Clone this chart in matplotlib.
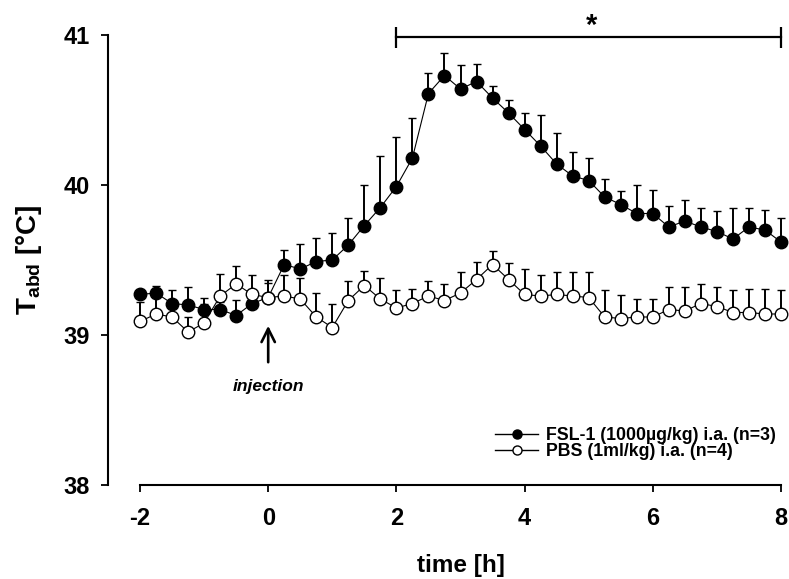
import matplotlib
matplotlib.use('Agg')
import matplotlib.pyplot as plt
from matplotlib.lines import Line2D

plt.rcParams['font.family'] = 'Liberation Sans'
plt.rcParams['font.weight'] = 'bold'
plt.rcParams['axes.unicode_minus'] = False
plt.rcParams['mathtext.fontset'] = 'custom'
plt.rcParams['mathtext.rm'] = 'Liberation Sans:bold'
plt.rcParams['mathtext.default'] = 'rm'

# time points (h), 15 min sampling
time = [-2.0, -1.75, -1.5, -1.25, -1.0, -0.75, -0.5, -0.25,
        0.0, 0.25, 0.5, 0.75, 1.0, 1.25, 1.5, 1.75,
        2.0, 2.25, 2.5, 2.75, 3.0, 3.25, 3.5, 3.75,
        4.0, 4.25, 4.5, 4.75, 5.0, 5.25, 5.5, 5.75,
        6.0, 6.25, 6.5, 6.75, 7.0, 7.25, 7.5, 7.75, 8.0]

fsl = [39.27, 39.28, 39.21, 39.20, 39.17, 39.17, 39.13, 39.21,
       39.25, 39.47, 39.44, 39.49, 39.50, 39.60, 39.73, 39.85,
       39.99, 40.18, 40.61, 40.73, 40.64, 40.69, 40.58, 40.48,
       40.37, 40.26, 40.14, 40.06, 40.03, 39.92, 39.87, 39.81,
       39.81, 39.72, 39.76, 39.72, 39.69, 39.64, 39.72, 39.70, 39.62]
fsl_sem = [0.03, 0.05, 0.09, 0.12, 0.04, 0.05, 0.10, 0.05,
           0.10, 0.10, 0.17, 0.16, 0.18, 0.18, 0.27, 0.34,
           0.33, 0.27, 0.14, 0.15, 0.16, 0.12, 0.08, 0.09,
           0.11, 0.21, 0.21, 0.16, 0.15, 0.12, 0.09, 0.19,
           0.16, 0.14, 0.14, 0.13, 0.14, 0.21, 0.13, 0.13, 0.16]

pbs = [39.09, 39.14, 39.12, 39.02, 39.08, 39.26, 39.34, 39.27,
       39.25, 39.26, 39.24, 39.12, 39.05, 39.23, 39.33, 39.24,
       39.18, 39.21, 39.26, 39.23, 39.28, 39.37, 39.47, 39.37,
       39.27, 39.26, 39.27, 39.26, 39.25, 39.12, 39.11, 39.12,
       39.12, 39.17, 39.16, 39.21, 39.19, 39.15, 39.15, 39.14, 39.14]
pbs_sem = [0.13, 0.12, 0.10, 0.10, 0.17, 0.15, 0.12, 0.13,
           0.12, 0.14, 0.14, 0.16, 0.16, 0.13, 0.10, 0.14,
           0.12, 0.10, 0.10, 0.11, 0.14, 0.12, 0.09, 0.11,
           0.17, 0.14, 0.15, 0.16, 0.17, 0.18, 0.16, 0.12,
           0.12, 0.15, 0.16, 0.13, 0.13, 0.15, 0.16, 0.17, 0.16]

fsl_label = 'FSL-1 (1000µg/kg) i.a. (n=3)'
pbs_label = 'PBS (1ml/kg) i.a. (n=4)'
x_ticks = [-2, 0, 2, 4, 6, 8]
y_ticks = [38, 39, 40, 41]

fig = plt.figure(figsize=(7.89, 5.79), dpi=100)
ax = fig.add_axes([140/789, 94/579, 641/789, 450/579])


def draw_series(y, sem, face, z):
    lower = [0] * len(sem)
    cont = ax.errorbar(time, y, yerr=[lower, sem], fmt='-o', color='black',
                       mfc=face, mec='black', ms=9, mew=1.0, lw=0.8,
                       elinewidth=1.4, capsize=3, capthick=1.4, zorder=z)
    for art in cont.get_children():
        art.set_clip_on(False)
    return cont


draw_series(fsl, fsl_sem, 'black', 3)
draw_series(pbs, pbs_sem, 'white', 4)

ax.set_xlim(-2, 8)
ax.set_ylim(38, 41)
ax.set_xticks(x_ticks)
ax.set_yticks(y_ticks)
ax.spines['top'].set_visible(False)
ax.spines['right'].set_visible(False)
ax.spines['left'].set_position(('outward', 23))
ax.spines['left'].set_bounds(38, 41)
ax.spines['bottom'].set_bounds(-2, 8)
for s in ['left', 'bottom']:
    ax.spines[s].set_linewidth(1.5)
ax.tick_params(axis='both', direction='out', length=5, width=1.3, labelsize=17)
ax.tick_params(axis='y', pad=8)
ax.tick_params(axis='x', pad=11)

ax.set_xlabel('time [h]', fontsize=17.5, fontweight='bold', labelpad=17)
fig.text(29/789, 1 - 260/579, 'T$_{abd}$ [°C]', rotation=90, ha='center',
         va='center', fontsize=20, fontweight='bold')

# significance bar
ax.plot([2, 8], [40.99, 40.99], color='black', lw=1.6, clip_on=False)
ax.vlines([2, 8], 40.913, 41.053, color='black', lw=1.6, clip_on=False)
ax.text(5.05, 41.06, '*', fontsize=21, ha='center', va='center')

# injection arrow
ax.annotate('', xy=(0, 39.08), xytext=(0, 38.8),
            arrowprops=dict(arrowstyle='->', lw=1.9, mutation_scale=24, color='black'))
ax.text(0, 38.66, 'injection', fontsize=12.5, fontstyle='italic',
        fontweight='bold', ha='center', va='center')

handles = [Line2D([], [], color='black', lw=1.0, marker='o', ms=6.5, mfc='black', mec='black'),
           Line2D([], [], color='black', lw=1.0, marker='o', ms=6.5, mfc='white', mec='black')]
ax.legend(handles, [fsl_label, pbs_label], loc='upper right',
          bbox_to_anchor=(776/789, 1 - 427/579),
          bbox_transform=fig.transFigure, frameon=False, fontsize=12.8,
          handlelength=2.4, handletextpad=0.45, labelspacing=-0.05,
          borderpad=0, borderaxespad=0)

fig.savefig('out.png', dpi=100)
